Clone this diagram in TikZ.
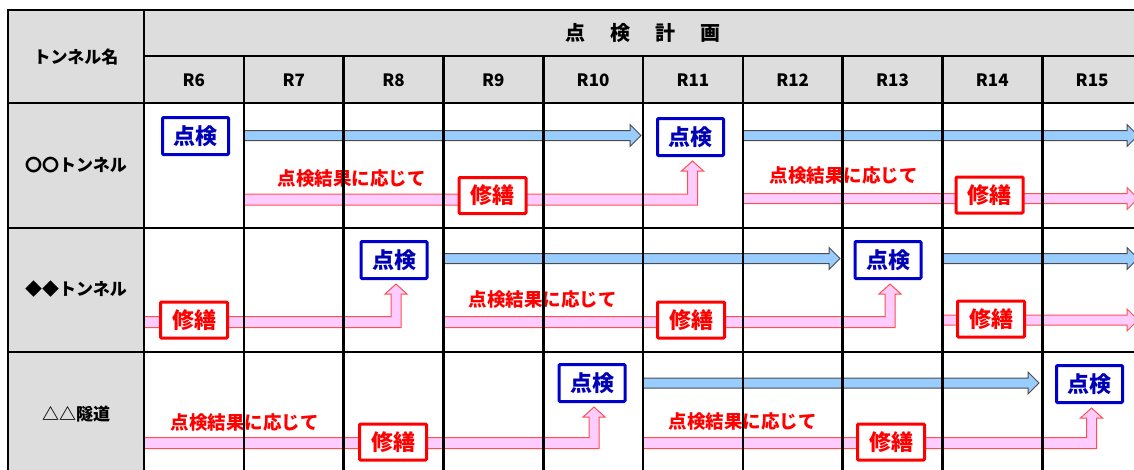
\documentclass[tikz,border=0pt]{standalone}
\usepackage{fontspec}
\setmainfont{Noto Sans CJK JP}
\usetikzlibrary{calc,positioning}
\definecolor{cellgray}{RGB}{221,221,221}
\definecolor{planblue}{RGB}{0,0,204}
\definecolor{arrowblue}{RGB}{153,204,255}
\definecolor{arrowpink}{RGB}{255,204,255}
\definecolor{repairred}{RGB}{255,0,0}
\definecolor{pinkedge}{RGB}{255,80,80}

\tikzset{
  inspectbox/.style={draw=planblue, line width=3pt, fill=white, text=planblue!90!black,
    rounded corners=1pt, minimum width=66pt, minimum height=37pt, inner sep=0pt,
    font=\fontsize{22}{24}\selectfont\bfseries},
  repairbox/.style={draw=repairred, line width=3pt, fill=white, text=repairred,
    rounded corners=1pt, minimum width=67pt, minimum height=36pt, inner sep=0pt,
    font=\fontsize{22}{24}\selectfont\bfseries},
  note/.style={text=repairred, inner sep=0pt, font=\fontsize{18.5}{20}\selectfont\bfseries},
  headtext/.style={inner sep=0pt, font=\fontsize{17}{19}\selectfont\bfseries},
  bluearrow/.style={fill=arrowblue, draw=black!70, line width=1pt},
  pinkarrow/.style={fill=arrowpink, draw=pinkedge, line width=1pt},
  tableline/.style={line width=2.6pt, line cap=rect}
}

% straight block arrow: style, x start, x tip, y
\newcommand{\planarrow}[4]{%
  \draw[#1] let \p1=(#2,#4), \p2=(#3,#4) in
    (\x1,\y1+5pt) -- (\x2-11pt,\y1+5pt) -- (\x2-11pt,\y1+11pt) -- (\p2)
    -- (\x2-11pt,\y1-11pt) -- (\x2-11pt,\y1-5pt) -- (\x1,\y1-5pt) -- cycle;}
% bent block arrow: x start, y, box it points at
\newcommand{\bentarrow}[3]{%
  \draw[pinkarrow] let \p1=($(#3.south)+(2,4)$), \p2=(#1,#2) in
    (\x2,\y2+5.5pt) -- (\x1-5pt,\y2+5.5pt) -- (\x1-5pt,\y1-10pt) -- (\x1-11pt,\y1-10pt)
    -- (\p1) -- (\x1+11pt,\y1-10pt) -- (\x1+5pt,\y1-10pt) -- (\x1+5pt,\y2-5.5pt)
    -- (\x2,\y2-5.5pt) -- cycle;}

\begin{document}
\begin{tikzpicture}[x=1pt,y=-1pt]
\useasboundingbox (0,0) rectangle (1134,469);
\clip (0,0) rectangle (1134,469);

% grey cells
\fill[cellgray] (8,10) rectangle (1142,103);
\fill[cellgray] (8,103) rectangle (144,477);

% inspections
\node[inspectbox] (insA1) at (195.5,136) {点検};
\node[inspectbox] (insA2) at (690.5,137) {点検};
\node[inspectbox] (insB1) at (394,260) {点検};
\node[inspectbox] (insB2) at (888,260) {点検};
\node[inspectbox] (insC1) at (592,383) {点検};
\node[inspectbox] (insC2) at (1089.5,384) {点検};

% arrows
\planarrow{bluearrow}{244}{641}{135.5}
\planarrow{bluearrow}{743}{1138}{135.5}
\planarrow{bluearrow}{444}{840}{258.5}
\planarrow{bluearrow}{942}{1138}{258.5}
\planarrow{bluearrow}{643}{1039}{383}
\bentarrow{244}{199.5}{insA2}
\planarrow{pinkarrow}{743}{1138}{198.5}
\bentarrow{144}{322}{insB1}
\bentarrow{444}{322}{insB2}
\planarrow{pinkarrow}{942}{1138}{320}
\bentarrow{144}{443}{insC1}
\bentarrow{643}{443}{insC2}

% notes
\node[note] (noteA1) at (351.5,178.5) {点検結果に応じて};
\node[note] (noteA2) at (843.5,176) {点検結果に応じて};
\node[note] (noteB1) at (542.5,300) {点検結果に応じて};
\node[note] (noteC1) at (244.5,423) {点検結果に応じて};
\node[note] (noteC2) at (742.5,422) {点検結果に応じて};

% table lines
\draw[tableline] (8,10) -- (1142,10);
\draw[tableline] (144,56) -- (1142,56);
\foreach \y in {103,228,352}
  \draw[tableline] (8,\y) -- (1142,\y);
\foreach \x in {8,144}
  \draw[tableline] (\x,10) -- (\x,477);
\foreach \i [evaluate=\i as \x using 144+99.8*\i] in {1,...,9}
  \draw[tableline] (\x,56) -- (\x,477);

% headings
\node[headtext] (name) at (76,56.5) {トンネル名};
\node[headtext, font=\fontsize{20}{22}\selectfont\bfseries] (plan) at (643,33)
  {点\hspace{25pt}検\hspace{25pt}計\hspace{25pt}画};
\foreach \r [count=\i from 0] in {6,...,15}
  \node[headtext] (R\r) at ({193.9+99.8*\i},80) {R\r};
\node[headtext] (tunA) at (76,165.5) {〇〇トンネル};
\node[headtext] (tunB) at (76,289) {◆◆トンネル};
\node[headtext] (tunC) at (76,414) {△△隧道};

% repairs
\node[repairbox] (repA1) at (492.5,195.5) {修繕};
\node[repairbox] (repA2) at (989.5,195) {修繕};
\node[repairbox] (repB1) at (194,320) {修繕};
\node[repairbox] (repB2) at (691,320) {修繕};
\node[repairbox] (repB3) at (991,319) {修繕};
\node[repairbox] (repC1) at (393,442) {修繕};
\node[repairbox] (repC2) at (891,442) {修繕};
\end{tikzpicture}
\end{document}
